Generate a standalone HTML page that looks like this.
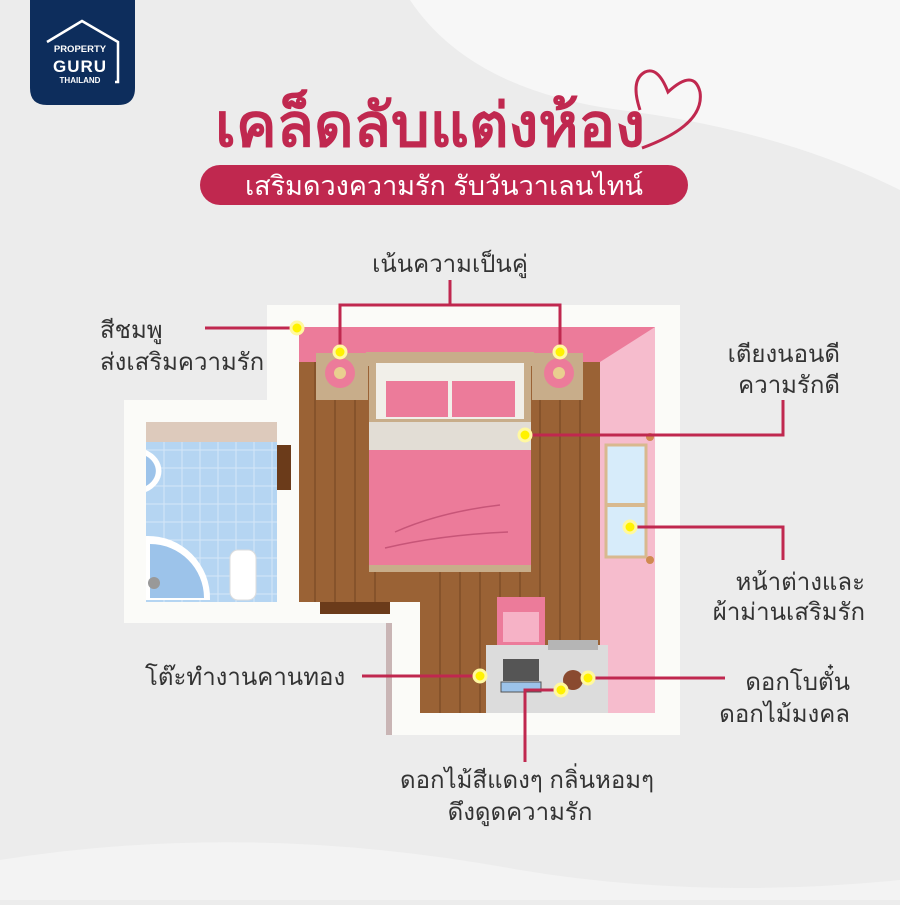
<!DOCTYPE html>
<html><head><meta charset="utf-8"><style>
html,body{margin:0;padding:0}
body{width:900px;height:900px;overflow:hidden;background:#ececec;font-family:"Liberation Sans","DejaVu Sans",sans-serif}
svg text{font-family:"Liberation Sans","DejaVu Sans",sans-serif}
</style></head><body>
<svg width="900" height="900" viewBox="0 0 900 900" xmlns="http://www.w3.org/2000/svg">
<defs><clipPath id="fl"><path d="M299 362H600V713H420V602H299Z"/></clipPath></defs>
<rect width="900" height="900" fill="#ececec"/>
<path d="M410 0 Q470 90 620 110 Q780 130 900 190 L900 0 Z" fill="#f7f7f7"/>
<path d="M0 860 Q250 820 520 870 Q700 900 900 880 L900 900 L0 900Z" fill="#f3f3f3"/>
<!-- logo -->
<path d="M30 0 H135 V88 Q135 105 118 105 H47 Q30 105 30 88Z" fill="#0d2d5c"/>
<path d="M47 42 L82 21 L118 42 V82 H115" fill="none" stroke="#fff" stroke-width="2.5"/>
<text x="80" y="52" fill="#fff" font-size="9.5" font-weight="bold" text-anchor="middle">PROPERTY</text>
<text x="80" y="72" fill="#fff" font-size="17" font-weight="bold" text-anchor="middle" letter-spacing="1">GURU</text>
<text x="80" y="83" fill="#fff" font-size="8" font-weight="bold" text-anchor="middle">THAILAND</text>
<!-- title -->
<text x="430" y="146" fill="#c0284f" font-size="60" font-weight="bold" text-anchor="middle" textLength="430" lengthAdjust="spacingAndGlyphs">เคล็ดลับแต่งห้อง</text>
<path d="M642 148 Q705 125 700 92 Q694 68 668 92 Q658 66 645 72 Q630 80 640 110" fill="none" stroke="#c0284f" stroke-width="3"/>
<rect x="200" y="165" width="488" height="40" rx="20" fill="#c0284f"/>
<text x="444" y="195" fill="#fff" font-size="27" text-anchor="middle">เสริมดวงความรัก รับวันวาเลนไทน์</text>
<!-- room walls -->
<rect x="267" y="305" width="413" height="430" fill="#fbfbf8"/>
<rect x="124" y="400" width="175" height="223" fill="#fbfbf8"/>
<rect x="267" y="623" width="124" height="112" fill="#ececec"/>
<rect x="386" y="623" width="6" height="112" fill="#c9b5b5"/>
<!-- bathroom -->
<rect x="146" y="422" width="131" height="180" fill="#b5d5f2"/>
<g stroke="#d5e7f8" stroke-width="1">
<path d="M146 450H277M146 468H277M146 486H277M146 504H277M146 522H277M146 540H277M146 558H277M146 576H277M146 594H277"/>
<path d="M164 442V602M182 442V602M200 442V602M218 442V602M236 442V602M254 442V602M272 442V602"/>
</g>
<rect x="146" y="422" width="131" height="20" fill="#ddcabc"/>
<path d="M146 450 A 30 24 0 0 1 146 492 Z" fill="#fff"/>
<path d="M146 456 A 22 18 0 0 1 146 486 Z" fill="#9cc3ea"/>
<path d="M146 536 A 62 62 0 0 1 210 600 L146 600Z" fill="#fff"/>
<path d="M150 544 A 54 54 0 0 1 204 598 L150 598Z" fill="#9cc3ea"/>
<circle cx="154" cy="583" r="6" fill="#999"/>
<rect x="230" y="550" width="26" height="50" rx="8" fill="#fff" stroke="#ddd"/>
<rect x="277" y="445" width="14" height="45" fill="#6b3b1a"/>
<!-- floor -->
<path d="M299 362H600V713H420V602H299Z" fill="#9a6235"/>
<g stroke="#7a4a25" stroke-width="2" opacity=".6" clip-path="url(#fl)">
<path d="M315 362V713M335 362V713M355 362V713M375 362V713M440 362V713M460 362V713M480 362V713M500 362V713M520 362V713M540 362V713M560 362V713M580 362V713"/>
</g>
<rect x="320" y="602" width="70" height="12" fill="#6b3b1a"/>
<!-- pink walls -->
<rect x="299" y="327" width="356" height="35" fill="#ec7b9a"/>
<path d="M600 362 L655 327 V713 H600Z" fill="#f6bccd"/>
<!-- nightstands -->
<rect x="316" y="353" width="52" height="47" fill="#c8ad8a"/>
<rect x="532" y="353" width="51" height="47" fill="#c8ad8a"/>
<circle cx="340" cy="373" r="15" fill="#ec7b9a"/><circle cx="340" cy="373" r="6" fill="#e9cf8f"/>
<circle cx="559" cy="373" r="15" fill="#ec7b9a"/><circle cx="559" cy="373" r="6" fill="#e9cf8f"/>
<!-- bed -->
<rect x="366" y="352" width="168" height="14" fill="#c8ad8a"/>
<rect x="369" y="360" width="162" height="212" fill="#c8ad8a"/>
<rect x="376" y="363" width="148" height="56" fill="#f1efe9"/>
<rect x="386" y="381" width="62" height="36" fill="#ec7b9a"/>
<rect x="452" y="381" width="63" height="36" fill="#ec7b9a"/>
<rect x="369" y="422" width="162" height="28" fill="#e2ddd5"/>
<rect x="369" y="450" width="162" height="115" fill="#ec7b9a"/>
<path d="M395 532 Q440 512 500 505 M385 548 Q440 535 508 532" stroke="#c75578" stroke-width="1.5" fill="none"/>
<!-- window -->
<rect x="606" y="445" width="40" height="112" fill="#d7ecfa" stroke="#d8b98f" stroke-width="3"/>
<path d="M606 505 H646" stroke="#d8b98f" stroke-width="4"/>
<circle cx="650" cy="437" r="4" fill="#d08a50"/><circle cx="650" cy="560" r="4" fill="#d08a50"/>
<!-- chair & desk -->
<rect x="497" y="597" width="48" height="52" fill="#ec7b9a"/>
<rect x="503" y="612" width="36" height="30" fill="#f6b2c6"/>
<rect x="486" y="645" width="122" height="68" fill="#dcdcdc"/>
<rect x="548" y="640" width="50" height="10" fill="#b5b5b5"/>
<rect x="503" y="659" width="36" height="22" fill="#555"/>
<rect x="501" y="682" width="40" height="10" fill="#9cc3ea" stroke="#555"/>
<circle cx="573" cy="680" r="10" fill="#8a4a30"/>
<!-- connectors -->
<g stroke="#c0284f" stroke-width="3" fill="none">
<path d="M450 280V305H340V352M450 305H560V352"/>
<path d="M205 328H297"/>
<path d="M525 435H783V400"/>
<path d="M630 527H783V560"/>
<path d="M362 676H473"/>
<path d="M588 678H725"/>
<path d="M560 690H525V762"/>
</g>
<g fill="#fff200" stroke="#fff8a0" stroke-width="3">
<circle cx="297" cy="328" r="6"/><circle cx="340" cy="352" r="6"/><circle cx="560" cy="352" r="6"/>
<circle cx="525" cy="435" r="6"/><circle cx="630" cy="527" r="6"/><circle cx="480" cy="676" r="6"/>
<circle cx="588" cy="678" r="6"/><circle cx="561" cy="690" r="6"/>
</g>
<!-- labels -->
<g fill="#333" font-size="24">
<text x="450" y="272" text-anchor="middle">เน้นความเป็นคู่</text>
<text x="100" y="338">สีชมพู</text>
<text x="100" y="370">ส่งเสริมความรัก</text>
<text x="840" y="362" text-anchor="end">เตียงนอนดี</text>
<text x="840" y="393" text-anchor="end">ความรักดี</text>
<text x="865" y="590" text-anchor="end">หน้าต่างและ</text>
<text x="865" y="620" text-anchor="end">ผ้าม่านเสริมรัก</text>
<text x="145" y="685">โต๊ะทำงานคานทอง</text>
<text x="850" y="690" text-anchor="end">ดอกโบตั๋น</text>
<text x="850" y="722" text-anchor="end">ดอกไม้มงคล</text>
<text x="527" y="788" text-anchor="middle">ดอกไม้สีแดงๆ กลิ่นหอมๆ</text>
<text x="520" y="820" text-anchor="middle">ดึงดูดความรัก</text>
</g>
</svg>
</body></html>
